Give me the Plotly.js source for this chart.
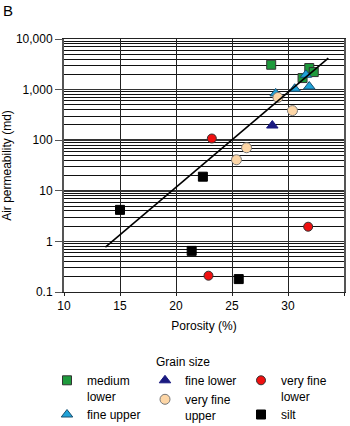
<!DOCTYPE html>
<html>
<head>
<meta charset="utf-8">
<script src="https://cdn.plot.ly/plotly-3.0.1.min.js"></script>
<style>html,body{margin:0;padding:0;background:#fff;}#chart{width:350px;height:426px;}</style>
</head>
<body>
<div id="chart"></div>
<script>
// Data
const mediumLowerX = [28.5, 31.9, 32.3, 31.3];
const mediumLowerY = [3100, 2670, 2220, 1690];
const fineUpperX = [30.6, 31.9, 31.6, 28.9];
const fineUpperY = [1040, 1150, 1960, 840];
const fineLowerX = [28.6];
const fineLowerY = [195];
const veryFineUpperX = [29.1, 30.4, 26.3, 25.4];
const veryFineUpperY = [700, 385, 71, 41];
const veryFineLowerX = [23.2, 31.8, 22.9];
const veryFineLowerY = [108, 1.95, 0.21];
const siltX = [22.4, 15.0, 21.4, 25.6];
const siltY = [19, 4.2, 0.65, 0.18];
const trendX = [13.7, 33.6];
const trendY = [0.77, 4200];
const yTickVals = [0.1, 1, 10, 100, 1000, 10000];
const yTickText = ['0.1', '1', '10', '100', '1,000', '10,000'];

const font = 'Liberation Sans, Arial, Helvetica, sans-serif';

function pts(x, y, name, symbol, color, lineColor, size, legend) {
  return {
    x: x, y: y, name: name, type: 'scatter', mode: 'markers', legend: legend,
    marker: {symbol: symbol, color: color, size: size, line: {color: lineColor, width: 1}}
  };
}

const traces = [
  pts(mediumLowerX, mediumLowerY, 'medium<br>lower', 'square', '#1e9a3c', '#333', 9, 'legend'),
  pts(fineUpperX, fineUpperY, 'fine upper', 'triangle-up', '#1fa2d8', '#1a5070', 10, 'legend'),
  pts(fineLowerX, fineLowerY, 'fine lower', 'triangle-up', '#1a1a80', '#1a1a80', 10, 'legend2'),
  pts(veryFineUpperX, veryFineUpperY, 'very fine<br>upper', 'circle', '#fdd6a6', '#777', 10, 'legend2'),
  pts(veryFineLowerX, veryFineLowerY, 'very fine<br>lower', 'circle', '#f01010', '#333', 9, 'legend3'),
  pts(siltX, siltY, 'silt', 'square', '#000', '#000', 9, 'legend3'),
  {x: trendX, y: trendY, type: 'scatter', mode: 'lines', showlegend: false,
   line: {color: '#000', width: 1.6}, hoverinfo: 'skip'}
];

const PL = 64, PT = 39, PW = 280, PH = 253;
function px2x(px) { return (px - PL) / PW; }
function py2y(py) { return 1 - (py - PT) / PH; }

function leg(xpx) {
  return {
    x: px2x(xpx), xanchor: 'left', y: py2y(366), yanchor: 'top',
    orientation: 'v', valign: 'top', traceorder: 'normal',
    font: {family: font, size: 12, color: '#000'},
    bgcolor: 'rgba(0,0,0,0)', borderwidth: 0, tracegroupgap: 0, itemwidth: 30
  };
}

const layout = {
  width: 350, height: 426,
  margin: {l: PL, r: 6, t: PT, b: 134, autoexpand: false},
  paper_bgcolor: '#fff', plot_bgcolor: '#fff',
  font: {family: font, size: 12, color: '#000'},
  showlegend: true,
  xaxis: {
    range: [10, 35], dtick: 5, tick0: 10,
    showgrid: true, gridcolor: '#222', gridwidth: 1,
    showline: true, linecolor: '#222', linewidth: 1, mirror: true,
    ticks: 'outside', ticklen: 3, tickcolor: '#222', zeroline: false,
    tickfont: {family: font, size: 12},
    title: {text: 'Porosity (%)', font: {family: font, size: 12}, standoff: 9}
  },
  yaxis: {
    type: 'log', range: [-1, 4],
    tickvals: yTickVals, ticktext: yTickText,
    showgrid: true, gridcolor: '#333', gridwidth: 1.5,
    minor: {dtick: 'D1', showgrid: true, gridcolor: '#111', gridwidth: 1, ticks: ''},
    showline: true, linecolor: '#555', linewidth: 2, mirror: true,
    ticks: 'outside', ticklen: 7, tickcolor: '#555', tickwidth: 1,
    zeroline: false,
    tickfont: {family: font, size: 12},
    title: {text: 'Air permeability (md)', font: {family: font, size: 12}, standoff: 5}
  },
  legend: leg(47),
  legend2: leg(145),
  legend3: leg(241),
  annotations: [
    {text: 'B', xref: 'paper', yref: 'paper', x: px2x(1), y: py2y(10),
     xanchor: 'left', yanchor: 'middle', showarrow: false, font: {family: font, size: 15}},
    {text: 'Grain size', xref: 'paper', yref: 'paper', x: px2x(183), y: py2y(362),
     xanchor: 'center', yanchor: 'middle', showarrow: false, font: {family: font, size: 12}}
  ]
};

Plotly.newPlot('chart', traces, layout, {displayModeBar: false, staticPlot: true});
</script>
</body>
</html>
